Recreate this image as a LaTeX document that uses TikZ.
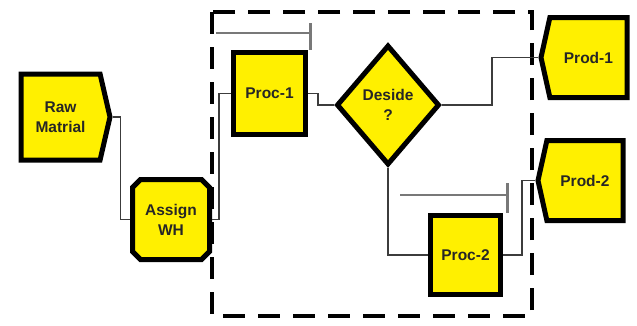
\documentclass[tikz,border=0pt]{standalone}
\usepackage{fontspec}
\setmainfont{Liberation Sans}
\usetikzlibrary{shapes.geometric, shapes.misc, shapes.symbols}
\definecolor{modyel}{RGB}{255,240,0}
\definecolor{linkgray}{RGB}{60,60,60}
\definecolor{queuegray}{RGB}{120,120,120}

\begin{document}
\begin{tikzpicture}[x=1pt, y=-1pt,
  module/.style={draw=black, line width=5pt, fill=modyel, inner sep=0pt,
    align=center, font=\fontsize{15.5}{20}\selectfont\bfseries, text=black!85},
  procbox/.style={module, rectangle},
  link/.style={draw=linkgray, line width=1.6pt},
  queue/.style={draw=queuegray, line width=2.4pt}]
  \useasboundingbox (0,0) rectangle (637,325);
  % submodel frame
  \draw[line width=4pt, dash pattern=on 22pt off 13pt] (212,12) rectangle (532,316);
  % modules
  \node[module, signal, signal to=east, signal pointer angle=154,
    minimum width=89pt, minimum height=86pt, anchor=west] (raw) at (18.5,117) {Raw\\Matrial};
  \node[module, chamfered rectangle, chamfered rectangle xsep=4pt, chamfered rectangle ysep=4pt,
    minimum width=77pt, minimum height=80pt] (assign) at (171,219.5) {Assign\\WH};
  \node[procbox, minimum width=72pt, minimum height=82pt] (proc1) at (269.5,93.5) {Proc-1};
  \node[module, diamond, minimum width=103pt, minimum height=120pt] (decide) at (388,105) {Deside\\?};
  \node[procbox, minimum width=70pt, minimum height=79pt] (proc2) at (465.5,255) {Proc-2};
  \node[module, signal, signal to=west, signal pointer angle=155,
    minimum width=86pt, minimum height=80pt, anchor=east] (prod1) at (629.5,57.5) {Prod-1};
  \node[module, signal, signal to=west, signal pointer angle=155,
    minimum width=85pt, minimum height=80pt, anchor=east] (prod2) at (625.5,180.5) {Prod-2};
  % queues
  \draw[queue] ([xshift=-15pt, yshift=17pt]proc1.north west) -- ([xshift=2.5pt, yshift=17pt]proc1.north east);
  \draw[queue] ([xshift=2.5pt, yshift=27pt]proc1.north east) -- ([xshift=2.5pt]proc1.north east);
  \draw[queue] ([xshift=-28pt, yshift=18pt]proc2.north west) -- ([xshift=4.5pt, yshift=18pt]proc2.north east);
  \draw[queue] ([xshift=4.5pt, yshift=30pt]proc2.north east) -- ([xshift=4.5pt]proc2.north east);
  % connections
  \draw[link] (raw.east) -- ++(8,0) |- (assign.west);
  \draw[link] (assign.east) -- ++(7,0) |- (proc1.west);
  \draw[link] (proc1.east) -- ++(10,0) |- (decide.west);
  \draw[link] (decide.east) -- ++(50,0) |- (prod1.west);
  \draw[link] (decide.south) |- (proc2.west);
  \draw[link] (proc2.east) -- ++(19,0) |- (prod2.west);
\end{tikzpicture}
\end{document}
